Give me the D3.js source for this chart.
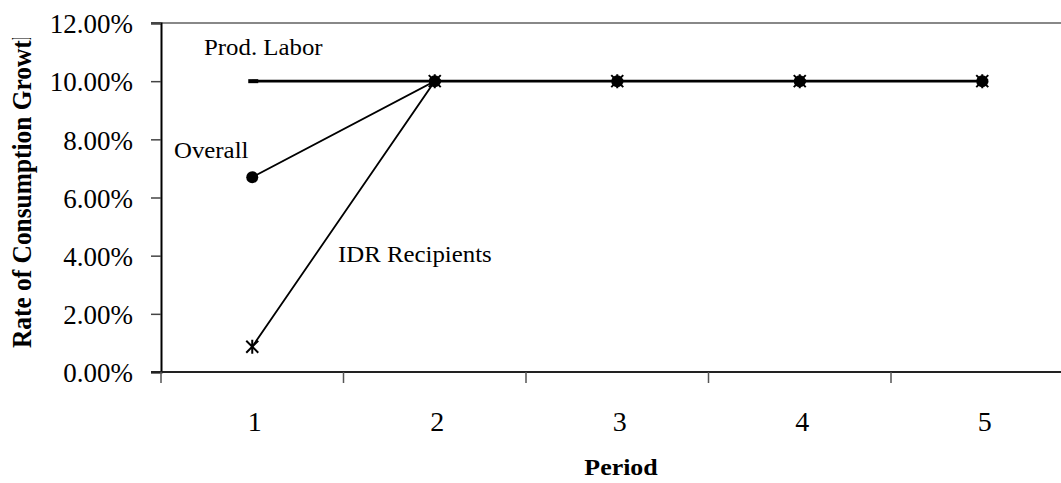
<!DOCTYPE html>
<html>
<head>
<meta charset="utf-8">
<script src="https://cdn.jsdelivr.net/npm/d3@7"></script>
<style>
  html, body { margin: 0; padding: 0; background: #fff; }
  svg { display: block; }
  svg text { font-family: "Liberation Serif", "DejaVu Serif", serif; fill: #000; }
</style>
</head>
<body>
<svg id="chart" width="1061" height="483"></svg>
<script>
// Periods and growth rates (percent)
const periods = ["1", "2", "3", "4", "5"];
const prodLabor = [10, 10, 10, 10, 10];
const overall = [6.7, 10, 10, 10, 10];
const idrRecipients = [0.87, 10, 10, 10, 10];
const yTicks = [0, 2, 4, 6, 8, 10, 12];

const svg = d3.select("#chart");
const plot = { left: 161, right: 1073.5, top: 23, bottom: 372 };

const x = d3.scalePoint().domain(periods).range([plot.left, plot.right]).padding(0.5);
const y = d3.scaleLinear().domain([0, 12]).range([plot.bottom, plot.top]);
const step = x.step();

// Top border of the plot area
svg.append("line")
  .attr("x1", plot.left - 10).attr("x2", 1061)
  .attr("y1", plot.top).attr("y2", plot.top)
  .attr("stroke", "#888").attr("stroke-width", 2);

// Y axis
const yAxis = svg.append("g")
  .attr("transform", `translate(${plot.left},0)`)
  .call(d3.axisLeft(y).tickValues(yTicks).tickFormat(d => d.toFixed(2) + "%").tickSize(10));
yAxis.attr("font-family", null).attr("font-size", null);
yAxis.select(".domain").attr("stroke", "#000").attr("stroke-width", 2);
yAxis.selectAll(".tick line").attr("stroke", "#444").attr("stroke-width", 1.5);
yAxis.selectAll(".tick text")
  .attr("x", -28)
  .attr("text-anchor", "end")
  .attr("dy", "0.36em")
  .style("font-family", "'Liberation Serif', serif")
  .style("font-size", "27px");

// X axis with tick marks between periods
const xAxis = svg.append("g")
  .attr("transform", `translate(0,${plot.bottom})`)
  .call(d3.axisBottom(x).tickSize(0).tickPadding(39));
xAxis.attr("font-family", null).attr("font-size", null);
xAxis.select(".domain").remove();
xAxis.selectAll(".tick text")
  .attr("dx", 2)
  .style("font-family", "'Liberation Serif', serif")
  .style("font-size", "28px");
svg.append("line")
  .attr("x1", plot.left - 10).attr("x2", 1061)
  .attr("y1", plot.bottom).attr("y2", plot.bottom)
  .attr("stroke", "#222").attr("stroke-width", 2);
svg.append("g").selectAll("line")
  .data(periods)
  .join("line")
  .attr("x1", d => x(d) - step / 2).attr("x2", d => x(d) - step / 2)
  .attr("y1", plot.bottom).attr("y2", plot.bottom + 11)
  .attr("stroke", "#555").attr("stroke-width", 1.5);

// Axis titles
svg.append("text")
  .attr("transform", `translate(621,475) scale(1.08,1)`)
  .attr("text-anchor", "middle")
  .style("font-weight", "bold").style("font-size", "24px")
  .text("Period");

svg.append("clipPath").attr("id", "ytitle-clip")
  .append("rect").attr("x", 0).attr("y", 38).attr("width", 60).attr("height", 400);
svg.append("g").attr("clip-path", "url(#ytitle-clip)")
  .append("text")
  .attr("transform", `translate(31,348) scale(1.1,1) rotate(-90)`)
  .style("font-weight", "bold").style("font-size", "25.4px")
  .text("Rate of Consumption Growth");

// Series lines
const line = d3.line().x((d, i) => x(periods[i])).y(d => y(d));

svg.append("path").datum(prodLabor)
  .attr("d", line).attr("fill", "none").attr("stroke", "#000").attr("stroke-width", 2.6);
svg.append("path").datum(overall)
  .attr("d", line).attr("fill", "none").attr("stroke", "#000").attr("stroke-width", 1.8);
svg.append("path").datum(idrRecipients)
  .attr("d", line).attr("fill", "none").attr("stroke", "#000").attr("stroke-width", 1.8);

// Markers: dash for Prod. Labor
svg.append("g").selectAll("rect")
  .data(prodLabor)
  .join("rect")
  .attr("x", (d, i) => x(periods[i]) - 4).attr("y", d => y(d) - 2)
  .attr("width", 10).attr("height", 4).attr("fill", "#000");

// Markers: filled circle for Overall
svg.append("g").selectAll("circle")
  .data(overall)
  .join("circle")
  .attr("cx", (d, i) => x(periods[i])).attr("cy", d => y(d))
  .attr("r", 6).attr("fill", "#000");

// Markers: asterisk for IDR Recipients
const star = svg.append("g").selectAll("g")
  .data(idrRecipients)
  .join("g")
  .attr("transform", (d, i) => `translate(${x(periods[i])},${y(d)})`);
star.append("path")
  .attr("d", "M-6,-6L6,6M-6,6L6,-6M0,-7L0,7")
  .attr("stroke", "#000").attr("stroke-width", 2).attr("fill", "none");

// Series labels
const labels = [
  { text: "Prod. Labor", x: 204, y: 55 },
  { text: "Overall", x: 174, y: 158 },
  { text: "IDR Recipients", x: 338, y: 262 }
];
svg.append("g").selectAll("text")
  .data(labels)
  .join("text")
  .attr("transform", d => `translate(${d.x},${d.y}) scale(1.08,1)`)
  .style("font-size", "23px")
  .text(d => d.text);
</script>
</body>
</html>
